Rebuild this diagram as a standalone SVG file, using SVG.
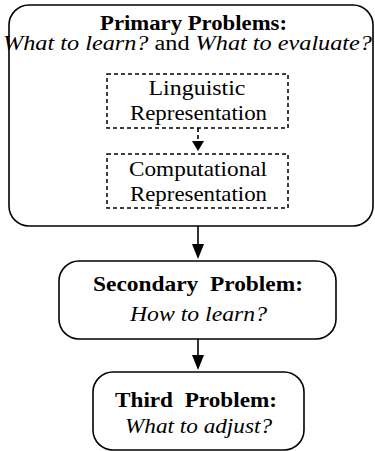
<svg xmlns="http://www.w3.org/2000/svg" width="375" height="451" viewBox="0 0 375 451">
<style>
.box{fill:#fff;stroke:#000;stroke-width:1.6}
.dash{fill:#fff;stroke:#000;stroke-width:1.5;stroke-dasharray:4 3}
.t{font-family:"Liberation Serif","Times New Roman",serif;font-size:21px;fill:#000;text-anchor:middle}
.s{font-size:20px}
.b{font-weight:bold}
.i{font-style:italic}
.ln{stroke:#000;stroke-width:1.6;fill:none}
</style>
<rect width="375" height="451" fill="#fff"/>
<g id="primary">
<rect class="box" x="9" y="5" width="364" height="221" rx="20"/>
<text class="t s b" x="193.5" y="30" textLength="187" lengthAdjust="spacingAndGlyphs">Primary Problems:</text>
<text class="t s" x="187.5" y="50" textLength="369" lengthAdjust="spacingAndGlyphs"><tspan class="i">What to learn?</tspan> and <tspan class="i">What to evaluate?</tspan></text>
</g>
<g id="linguistic">
<rect class="dash" x="107" y="74" width="181" height="54"/>
<text class="t" x="197" y="95" textLength="97" lengthAdjust="spacingAndGlyphs">Linguistic</text>
<text class="t" x="198.5" y="120" textLength="137" lengthAdjust="spacingAndGlyphs">Representation</text>
</g>
<g id="computational">
<rect class="dash" x="107" y="154" width="181" height="54"/>
<text class="t" x="198" y="176" textLength="138" lengthAdjust="spacingAndGlyphs">Computational</text>
<text class="t" x="198.5" y="201" textLength="137" lengthAdjust="spacingAndGlyphs">Representation</text>
</g>
<g id="secondary">
<rect class="box" x="59" y="261" width="277" height="78" rx="20"/>
<text class="t b" x="198" y="291" textLength="210" lengthAdjust="spacingAndGlyphs" xml:space="preserve">Secondary  Problem:</text>
<text class="t i" x="198.5" y="321" textLength="137" lengthAdjust="spacingAndGlyphs">How to learn?</text>
</g>
<g id="third">
<rect class="box" x="93" y="372" width="211" height="78" rx="20"/>
<text class="t b" x="196" y="407" textLength="162" lengthAdjust="spacingAndGlyphs" xml:space="preserve">Third  Problem:</text>
<text class="t i" x="198.5" y="433" textLength="147" lengthAdjust="spacingAndGlyphs">What to adjust?</text>
</g>
<g id="connectors">
<line class="ln" x1="198" y1="128" x2="198" y2="142" stroke-dasharray="4 3"/>
<polygon points="192,141 204,141 198,151"/>
<line class="ln" x1="198" y1="226" x2="198" y2="246"/>
<polygon points="192,244 204,244 198,259"/>
<line class="ln" x1="198" y1="339" x2="198" y2="357"/>
<polygon points="192,355 204,355 198,370"/>
</g>
</svg>
